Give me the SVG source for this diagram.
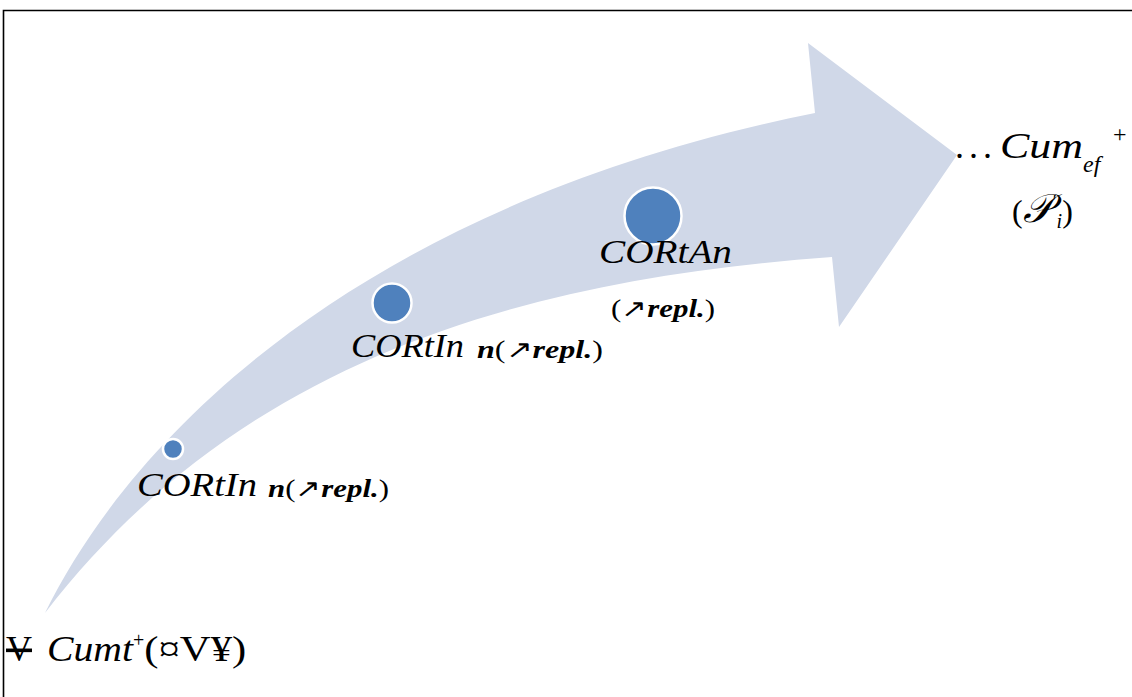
<svg xmlns="http://www.w3.org/2000/svg" width="1132" height="697" viewBox="0 0 1132 697">
<style>
.t{font-family:"Liberation Serif","Times New Roman",serif;fill:#000}
.it{font-style:italic}
.bi{font-style:italic;font-weight:bold}
.dot{fill:#4F81BD;stroke:#fff;stroke-width:2.5}
</style>
<rect width="1132" height="697" fill="#fff"/>
<path d="M3.5 697 V10.5 H1132" fill="none" stroke="#000" stroke-width="1.6"/>
<g id="connectors">
<path d="M45 613 C140 420 380 200 815 113 L808 43 L957 155 L839 327 L832 257 C520 280 240 360 45 613 Z" fill="#D0D8E8"/>
</g>
<g id="node-start">
<text class="t" x="6" y="661" font-size="36"><tspan text-decoration="line-through">V</tspan><tspan class="it" x="47" textLength="86" lengthAdjust="spacingAndGlyphs">Cumt</tspan><tspan font-size="20" dy="-14">+</tspan><tspan dy="14" textLength="102" lengthAdjust="spacingAndGlyphs">(¤V¥)</tspan></text>
</g>
<g id="node-1">
<circle class="dot" cx="173" cy="449" r="10"/>
<text class="t it" x="137" y="496" font-size="34" textLength="120" lengthAdjust="spacingAndGlyphs">CORtIn</text>
<text class="t" x="268" y="497" font-size="25" textLength="121" lengthAdjust="spacingAndGlyphs"><tspan class="bi">n</tspan>(↗<tspan class="bi">repl.</tspan>)</text>
</g>
<g id="node-2">
<circle class="dot" cx="392" cy="303" r="19.5"/>
<text class="t it" x="351" y="357" font-size="34" textLength="113" lengthAdjust="spacingAndGlyphs">CORtIn</text>
<text class="t" x="477" y="358" font-size="25" textLength="126" lengthAdjust="spacingAndGlyphs"><tspan class="bi">n</tspan>(↗<tspan class="bi">repl.</tspan>)</text>
</g>
<g id="node-3">
<circle class="dot" cx="653" cy="216" r="28.5"/>
<text class="t it" x="599" y="263" font-size="34" textLength="133" lengthAdjust="spacingAndGlyphs">CORtAn</text>
<text class="t" x="611" y="317" font-size="25" textLength="104" lengthAdjust="spacingAndGlyphs">(↗<tspan class="bi">repl.</tspan>)</text>
</g>
<g id="node-end">
<text class="t" x="955" y="158" font-size="36"><tspan letter-spacing="5">...</tspan><tspan class="it" x="1000" textLength="83" lengthAdjust="spacingAndGlyphs">Cum</tspan><tspan class="it" font-size="24" dy="14">ef</tspan><tspan font-size="24" x="1113" dy="-30">+</tspan></text>
<text class="t" x="1012" y="222" font-size="32">(<tspan class="it" font-size="40">𝒫</tspan><tspan font-size="18" dx="1" dy="-14">′</tspan><tspan class="it" font-size="20" dy="20">i</tspan><tspan dy="-6">)</tspan></text>
</g>
</svg>
